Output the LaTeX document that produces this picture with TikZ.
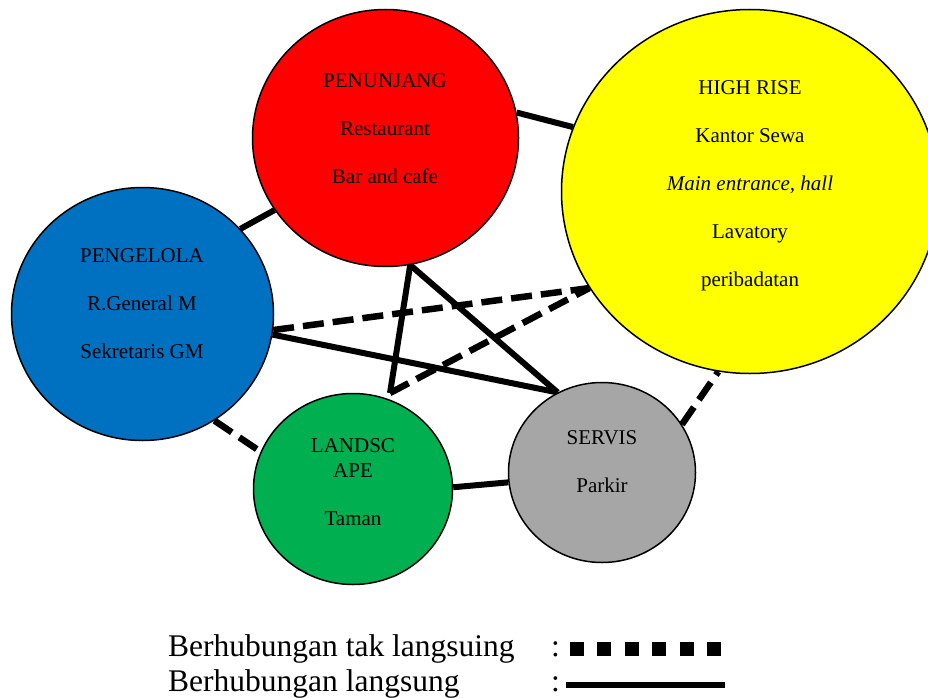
\documentclass[tikz,border=0pt]{standalone}
\usepackage{fontspec}
\setmainfont{Liberation Serif}
\usepackage{tikz}
\usetikzlibrary{
  shapes.geometric,
  backgrounds
}
\definecolor{xred}{RGB}{255,0,0}
\definecolor{xyellow}{RGB}{255,255,0}
\definecolor{xsea}{RGB}{0,112,192}
\definecolor{xleaf}{RGB}{0,176,80}
\definecolor{xstone}{RGB}{166,166,166}

\begin{document}
\begin{tikzpicture}[
  x=1pt, y=-1pt,
  zone/.style={ellipse, draw=black, line width=1.5pt, inner sep=0pt},
  zonetext/.style={anchor=north, inner sep=0pt, align=center,
                   font=\fontsize{21}{48}\selectfont},
  direct/.style={line width=6pt},
  indirect/.style={line width=6.5pt, dash pattern=on 21pt off 9pt},
  legend/.style={anchor=base west, inner sep=0pt, font=\fontsize{31.5}{36}\selectfont}
]
  \useasboundingbox (0,0) rectangle (928,698);

  % zones
  \node[zone, fill=xred,    minimum width=266pt, minimum height=257pt] (penunjang) at (385.5,138) {};
  \node[zone, fill=xyellow, minimum width=377pt, minimum height=364pt] (highrise)  at (750,191.5) {};
  \node[zone, fill=xsea,    minimum width=262pt, minimum height=253pt] (pengelola) at (142.5,314) {};
  \node[zone, fill=xleaf,   minimum width=199pt, minimum height=191pt] (landscape) at (353,489) {};
  \node[zone, fill=xstone,  minimum width=187pt, minimum height=180pt] (servis)    at (602,472.5) {};

  \node[zonetext] (penunjangtxt) at (385,73)  {PENUNJANG\\Restaurant\\Bar and cafe};
  \node[zonetext] (highrisetxt)  at (750,80)  {HIGH RISE\\Kantor Sewa\\\textit{Main entrance, hall}\\Lavatory\\peribadatan};
  \node[zonetext] (pengelolatxt) at (142,248) {PENGELOLA\\R.General M\\Sekretaris GM};
  \node[zonetext] (landscapetxt) at (353,438) {LANDSC\\[-23pt]APE\\Taman};
  \node[zonetext] (servistxt)    at (602,430) {SERVIS\\Parkir};

  \coordinate (apex) at (390,393);

  % links
  \begin{scope}[on background layer]
    \draw[direct]   (pengelola.41)  -- (penunjang.213);
    \draw[direct]   (penunjang.11)  -- (highrise.160);
    \draw[direct]   (pengelola.-9)  -- (servis.119);
    \draw[direct]   (penunjang.-79) -- (servis.119);
    \draw[direct]   (penunjang.-79) -- (apex);
    \draw[indirect] (apex)          -- (highrise.211);
    \draw[indirect] (pengelola.-7)  -- (highrise.211);
    \draw[indirect] (pengelola.-56) -- (landscape.158);
    \draw[direct]   (landscape.1)   -- (servis.186);
    \draw[indirect] (servis.31)     -- (highrise.-100);
  \end{scope}

  % legend
  \node[legend] (indtext)  at (168,656) {Berhubungan tak langsuing};
  \node[legend] (indcolon) at (551,656) {:};
  \node[legend] (dirtext)  at (168,691) {Berhubungan langsung};
  \node[legend] (dircolon) at (551,691) {:};
  \coordinate (inda) at (570,649);
  \coordinate (indb) at (722,649);
  \coordinate (dira) at (566,685);
  \coordinate (dirb) at (725,685);
  \draw[line width=14pt, dash pattern=on 14pt off 13.4pt] (inda) -- (indb);
  \draw[line width=6pt] (dira) -- (dirb);
\end{tikzpicture}
\end{document}
